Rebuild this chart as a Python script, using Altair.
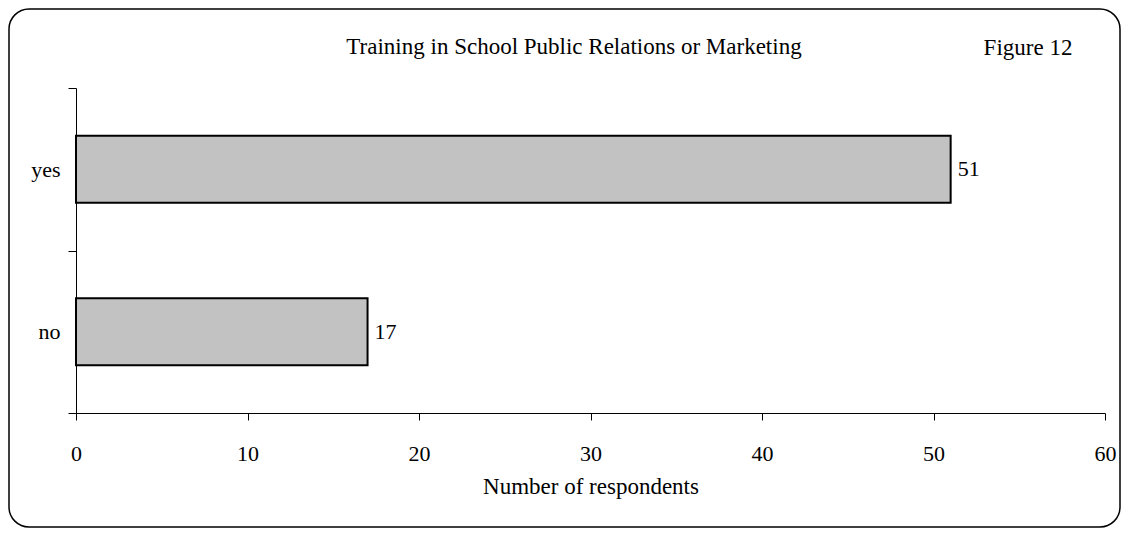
import altair as alt
import pandas as pd

categories = ["yes", "no"]
respondents = [51, 17]
x_ticks = [0, 10, 20, 30, 40, 50, 60]
chart_title = "Training in School Public Relations or Marketing"
figure_label = "Figure 12"
x_title = "Number of respondents"

FONT = "Liberation Serif"
df = pd.DataFrame({"answer": categories, "n": respondents})

y_enc = alt.Y(
    "answer:N",
    sort=categories,
    scale=alt.Scale(paddingInner=0, paddingOuter=0),
    axis=alt.Axis(
        title=None, tickBand="extent", tickSize=8, labelPadding=8,
        labelFontSize=22, labelFont=FONT, labelColor="black",
        domainColor="black", tickColor="black", grid=False,
    ),
)
x_enc = alt.X(
    "n:Q",
    scale=alt.Scale(domain=[0, 60], nice=False),
    axis=alt.Axis(
        values=x_ticks, title=x_title, tickSize=7, labelPadding=40,
        labelFlush=False,
        labelBaseline="alphabetic", labelFontSize=22, labelFont=FONT,
        labelColor="black", domainColor="black", tickColor="black",
        grid=False, titleFont=FONT, titleFontSize=23, titleFontWeight="normal",
        titleColor="black", titleBaseline="alphabetic", titleY=80,
    ),
)

base = alt.Chart(df)
bars = base.mark_bar(size=67, fill="#c2c2c2", stroke="black", strokeWidth=2).encode(
    x=x_enc, y=y_enc
)
labels = base.mark_text(align="left", dx=7, fontSize=22, font=FONT, color="black").encode(
    x=alt.X("n:Q"), y=alt.Y("answer:N", sort=categories), text="n:Q"
)

one = pd.DataFrame({"t": [chart_title], "f": [figure_label]})
title = alt.Chart(one).mark_text(
    fontSize=23, font=FONT, color="black", baseline="middle", align="center"
).encode(x=alt.value(498), y=alt.value(-41), text="t:N")
fig = alt.Chart(one).mark_text(
    fontSize=23, font=FONT, color="black", baseline="middle", align="center"
).encode(x=alt.value(952), y=alt.value(-40), text="f:N")
border = alt.Chart(one).mark_rect(
    fill="transparent", stroke="black", strokeWidth=1.5, cornerRadius=20
).encode(x=alt.value(-67), x2=alt.value(1044), y=alt.value(-79), y2=alt.value(439))

chart = alt.layer(border, bars, labels, title, fig).properties(
    width=1029,
    height=325,
    autosize=alt.AutoSizeParams(type="none"),
    padding={"left": 68, "top": 80, "right": 16, "bottom": 116},
).configure_view(stroke=None)

chart.save("out.html", embed_options={"renderer": "svg", "actions": False})
